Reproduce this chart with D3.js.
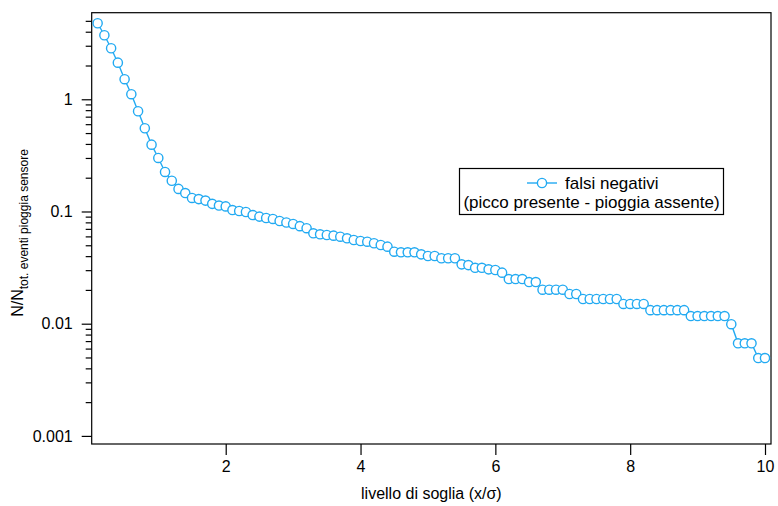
<!DOCTYPE html>
<html><head><meta charset="utf-8">
<script src="https://cdn.jsdelivr.net/npm/d3@7"></script>
<style>
body{margin:0;background:#fff}
svg{display:block}
text{font-family:"Liberation Sans",Arial,Helvetica,sans-serif;fill:#000}
</style>
</head><body>
<svg id="chart" width="778" height="506"></svg>
<script>
// ---- data ----
const thresholds = [0.1,0.2,0.3,0.4,0.5,0.6,0.7,0.8,0.9,1.0,
  1.1,1.2,1.3,1.4,1.5,1.6,1.7,1.8,1.9,2.0,
  2.1,2.2,2.3,2.4,2.5,2.6,2.7,2.8,2.9,3.0,
  3.1,3.2,3.3,3.4,3.5,3.6,3.7,3.8,3.9,4.0,
  4.1,4.2,4.3,4.4,4.5,4.6,4.7,4.8,4.9,5.0,
  5.1,5.2,5.3,5.4,5.5,5.6,5.7,5.8,5.9,6.0,
  6.1,6.2,6.3,6.4,6.5,6.6,6.7,6.8,6.9,7.0,
  7.1,7.2,7.3,7.4,7.5,7.6,7.7,7.8,7.9,8.0,
  8.1,8.2,8.3,8.4,8.5,8.6,8.7,8.8,8.9,9.0,
  9.1,9.2,9.3,9.4,9.5,9.6,9.7,9.8,9.9,10.0];
const falsiNegativi = [4.76,3.72,2.85,2.12,1.51,1.11,0.782,0.552,0.394,0.300,
  0.225,0.188,0.159,0.146,0.132,0.129,0.125,0.117,0.113,0.111,
  0.103,0.101,0.099,0.093,0.090,0.0875,0.0858,0.0823,0.0798,0.0774,
  0.0740,0.0710,0.0639,0.0626,0.0617,0.0609,0.0596,0.0577,0.0557,0.0546,
  0.0538,0.0521,0.0503,0.0486,0.0438,0.0433,0.0433,0.0433,0.0415,0.0401,
  0.0401,0.0383,0.0383,0.0383,0.0338,0.0333,0.0315,0.0315,0.0305,0.0301,
  0.0285,0.0250,0.0250,0.0250,0.0235,0.0235,0.0201,0.0201,0.0201,0.0201,
  0.0184,0.0184,0.0166,0.0166,0.0166,0.0166,0.0166,0.0166,0.0150,0.0150,
  0.0150,0.0150,0.0132,0.0132,0.0132,0.0132,0.0132,0.0132,0.0117,0.0117,
  0.0117,0.0117,0.0117,0.0117,0.0099,0.00669,0.00669,0.00669,0.00494,0.00494];
const xTickValues = [2,4,6,8,10];
const xTickLabels = ["2","4","6","8","10"];
const yTickValues = [0.001,0.01,0.1,1];
const yTickLabels = ["0.001","0.01","0.1","1"];
const legendLines = ["falsi negativi","(picco presente - pioggia assente)"];
const xTitle = "livello di soglia (x/\u03C3)";
const yTitleMain = "N/N";
const yTitleSub = "tot. eventi pioggia sensore";

// ---- layout ----
const color = "#22aaf2";
const plot = {left:91.7, right:771, top:12.7, bottom:444};
const svg = d3.select("#chart");

const x = d3.scaleLinear().domain([0.012,10.089]).range([plot.left,plot.right]);
const y = d3.scaleLog().domain([0.000847,5.91]).range([plot.bottom,plot.top]);

const pts = thresholds.map((t,i)=>({x:t,y:falsiNegativi[i]}));

// frame
svg.append("rect")
  .attr("x",plot.left).attr("y",plot.top)
  .attr("width",plot.right-plot.left).attr("height",plot.bottom-plot.top)
  .attr("fill","none").attr("stroke","#000").attr("stroke-width",1.2);

// x axis
const xAxis = svg.append("g").attr("transform",`translate(0,${plot.bottom})`)
  .call(d3.axisBottom(x).tickValues(xTickValues)
    .tickFormat((d,i)=>xTickLabels[i]).tickSize(11).tickPadding(6));
xAxis.select(".domain").remove();
xAxis.selectAll("line").attr("stroke","#000").attr("stroke-width",1.2);
xAxis.selectAll("text").attr("font-size",16).attr("fill","#000")
  .style("font-family",'"Liberation Sans",Arial,sans-serif');

// y axis major
const yAxis = svg.append("g").attr("transform",`translate(${plot.left},0)`)
  .call(d3.axisLeft(y).tickValues(yTickValues)
    .tickFormat((d,i)=>yTickLabels[i]).tickSize(10).tickPadding(9));
yAxis.select(".domain").remove();
yAxis.selectAll("line").attr("stroke","#000").attr("stroke-width",1.2);
yAxis.selectAll("text").attr("font-size",16).attr("fill","#000")
  .style("font-family",'"Liberation Sans",Arial,sans-serif');

// y axis minor
const minor = y.ticks().filter(v=>{
  const l = Math.log10(v); return Math.abs(l-Math.round(l))>1e-6 && v>0.0011;
});
const yMinor = svg.append("g").attr("transform",`translate(${plot.left},0)`)
  .call(d3.axisLeft(y).tickValues(minor).tickFormat("").tickSize(6));
yMinor.select(".domain").remove();
yMinor.selectAll("line").attr("stroke","#000").attr("stroke-width",1.2);

// series line
svg.append("path").datum(pts)
  .attr("fill","none").attr("stroke",color).attr("stroke-width",1.4)
  .attr("d",d3.line().x(d=>x(d.x)).y(d=>y(d.y)));

// markers
svg.append("g").selectAll("circle").data(pts).join("circle")
  .attr("cx",d=>x(d.x)).attr("cy",d=>y(d.y)).attr("r",4.6)
  .attr("fill","#fff").attr("stroke",color).attr("stroke-width",1.4);

// axis titles
svg.append("text").attr("x",(plot.left+plot.right)/2).attr("y",499)
  .attr("text-anchor","middle").attr("font-size",16).text(xTitle);

const yt = svg.append("text").attr("transform","translate(23,233) rotate(-90)")
  .attr("text-anchor","middle").attr("font-size",16);
yt.append("tspan").text(yTitleMain);
yt.append("tspan").attr("font-size",12).attr("dy",5).text(yTitleSub);

// legend
const lg = svg.append("g");
lg.append("rect").attr("x",459.5).attr("y",168.5).attr("width",264).attr("height",46)
  .attr("fill","#fff").attr("stroke","#000").attr("stroke-width",1.2);
lg.append("line").attr("x1",527).attr("x2",557).attr("y1",183).attr("y2",183)
  .attr("stroke",color).attr("stroke-width",1.4);
lg.append("circle").attr("cx",542).attr("cy",183).attr("r",4.6)
  .attr("fill","#fff").attr("stroke",color).attr("stroke-width",1.4);
lg.append("text").attr("x",565).attr("y",189).attr("font-size",17).text(legendLines[0]);
lg.append("text").attr("x",591.5).attr("y",208).attr("text-anchor","middle")
  .attr("font-size",17).text(legendLines[1]);
</script>
</body></html>
